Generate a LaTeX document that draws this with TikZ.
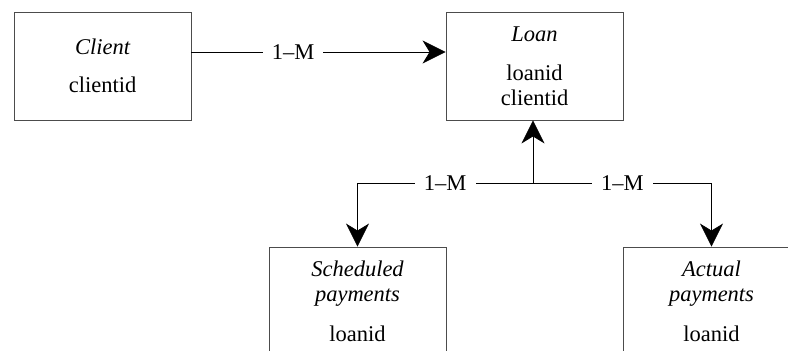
\documentclass[tikz,border=0pt]{standalone}
\usepackage{fontspec}
\setmainfont{Liberation Serif}
\usetikzlibrary{arrows.meta, positioning}

\begin{document}
\begin{tikzpicture}[
  x=1pt, y=-1pt,
  font=\fontsize{22.5}{25}\selectfont,
  entity/.style={rectangle, draw=black!70, line width=0.9pt, minimum width=177pt, minimum height=108pt, align=center, inner sep=0pt},
  card/.style={fill=white, inner xsep=9pt, inner ysep=2pt},
  arr/.style={-{Stealth[length=23pt, width=23pt, inset=7pt]}, line width=0.8pt, black}
]
  \useasboundingbox (0,0) rectangle (788,351);
  % Entities
  \node[entity] (client) at (102.5,66) {{\itshape Client}\\[13pt]clientid};
  \node[entity] (loan) at (534.5,66) {{\itshape Loan}\\[14pt]loanid\\clientid};
  \node[entity] (sched) at (357.5,301) {{\itshape Scheduled}\\{\itshape payments}\\[15pt]loanid};
  \node[entity] (actual) at (711.5,301) {{\itshape Actual}\\{\itshape payments}\\[15pt]loanid};
  % Relationships
  \draw[arr] ([yshift=14pt]client.east) -- node[card, pos=0.4] {1--M} ([yshift=14pt]loan.west);
  \coordinate (jn) at (533,183);
  \draw[arr] (jn) -- (jn |- loan.south);
  \draw[arr] (jn) -| node[card, pos=0.25] {1--M} (sched.north);
  \draw[arr] (jn) -| node[card, pos=0.25] {1--M} (actual.north);
\end{tikzpicture}
\end{document}
